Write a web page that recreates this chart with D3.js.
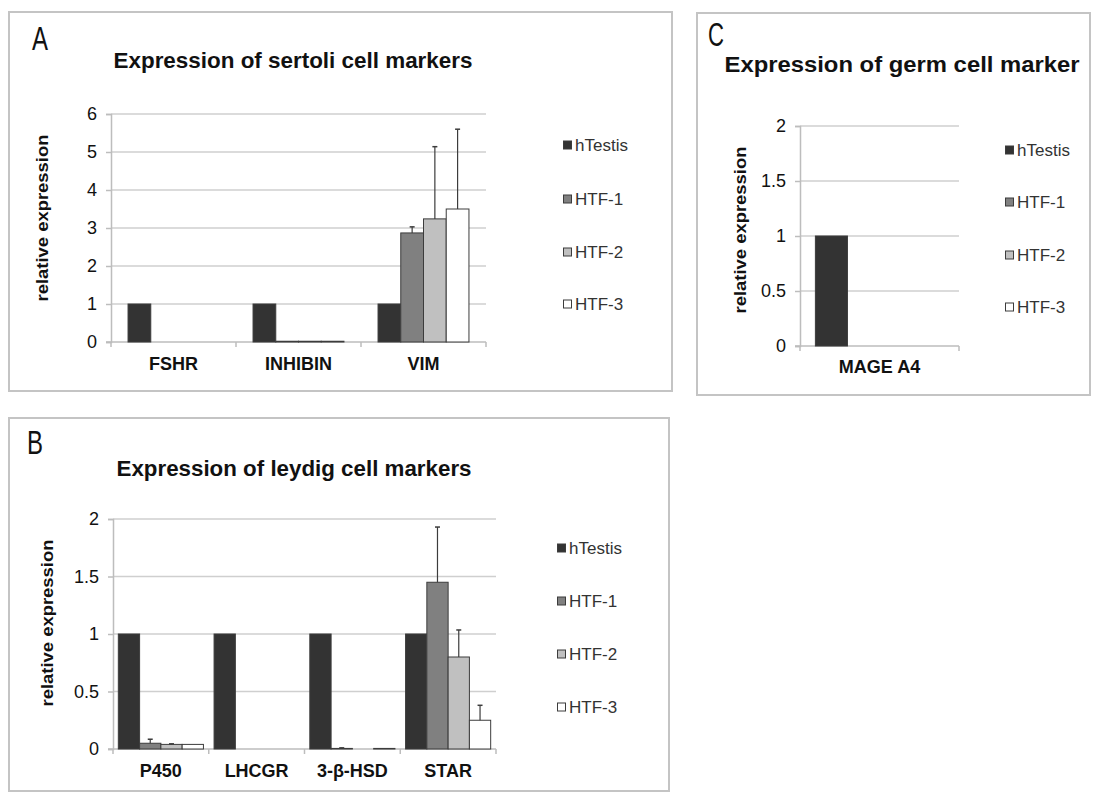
<!DOCTYPE html>
<html>
<head>
<meta charset="utf-8">
<script src="https://cdn.jsdelivr.net/npm/d3@7"></script>
<style>
  body { margin: 0; background: #fff; }
  svg text { font-family: "Liberation Sans", Arial, sans-serif; }
</style>
</head>
<body>
<div id="chart"></div>
<script>
const seriesNames = ['hTestis', 'HTF-1', 'HTF-2', 'HTF-3'];
const seriesColors = ['#333333', '#808080', '#c0c0c0', '#ffffff'];

// A - sertoli cell markers
const sertoliGenes = ['FSHR', 'INHIBIN', 'VIM'];
const sertoliValues = [[1, 0, 0, 0], [1, 0.02, 0.02, 0.02], [1, 2.87, 3.24, 3.5]];
const sertoliErrors = [[0, 0, 0, 0], [0, 0, 0, 0], [0, 0.16, 1.9, 2.1]];
const sertoliTicks = [0, 1, 2, 3, 4, 5, 6];

// B - leydig cell markers
const leydigGenes = ['P450', 'LHCGR', '3-β-HSD', 'STAR'];
const leydigValues = [[1, 0.05, 0.04, 0.04], [1, 0, 0, 0], [1, 0.005, 0, 0.005], [1, 1.45, 0.8, 0.25]];
const leydigErrors = [[0, 0.035, 0.005, 0], [0, 0, 0, 0], [0, 0.005, 0, 0], [0, 0.48, 0.235, 0.13]];
const leydigTicks = [0, 0.5, 1, 1.5, 2];

// C - germ cell marker
const germGenes = ['MAGE A4'];
const germValues = [[1, 0, 0, 0]];
const germErrors = [[0, 0, 0, 0]];
const germTicks = [0, 0.5, 1, 1.5, 2];

const svg = d3.select('#chart').append('svg')
    .attr('width', 1097)
    .attr('height', 792);

function drawPanel(cfg) {
    const g = svg.append('g');

    // panel frame
    g.append('rect')
        .attr('x', cfg.box[0]).attr('y', cfg.box[1])
        .attr('width', cfg.box[2]).attr('height', cfg.box[3])
        .attr('fill', '#fff')
        .attr('stroke', '#c4c4c4')
        .attr('stroke-width', 2);

    g.append('text')
        .attr('x', cfg.letterPos[0]).attr('y', cfg.letterPos[1])
        .attr('textLength', 16).attr('lengthAdjust', 'spacingAndGlyphs')
        .style('font-size', '33px')
        .attr('fill', '#111')
        .text(cfg.letter);

    g.append('text')
        .attr('x', cfg.titlePos[0]).attr('y', cfg.titlePos[1])
        .attr('text-anchor', 'middle')
        .attr('textLength', cfg.titleLen).attr('lengthAdjust', 'spacingAndGlyphs')
        .style('font-size', '22px').style('font-weight', 'bold')
        .attr('fill', '#111')
        .text(cfg.title);

    const x0 = d3.scaleBand()
        .domain(cfg.genes)
        .range(cfg.xRange);
    const x1 = d3.scaleBand()
        .domain(seriesNames)
        .range([0, x0.bandwidth()])
        .paddingOuter(cfg.barPad);
    const y = d3.scaleLinear()
        .domain([0, d3.max(cfg.ticks)])
        .range(cfg.yRange);

    // gridlines
    g.append('g').selectAll('line')
        .data(cfg.ticks.filter(t => t > 0))
        .join('line')
        .attr('x1', cfg.xRange[0]).attr('x2', cfg.xRange[1])
        .attr('y1', d => y(d)).attr('y2', d => y(d))
        .attr('stroke', '#cfcfcf')
        .attr('stroke-width', 1.5);

    // y axis
    const yAxis = g.append('g')
        .attr('transform', `translate(${cfg.xRange[0]},0)`)
        .call(d3.axisLeft(y).tickValues(cfg.ticks).tickSize(5).tickPadding(9)
            .tickFormat(d3.format('')));
    yAxis.select('.domain').attr('stroke', '#bdbdbd').attr('stroke-width', 1.5);
    yAxis.selectAll('.tick line').attr('stroke', '#bdbdbd').attr('stroke-width', 1.5);
    yAxis.selectAll('.tick text')
        .style('font-size', '18px').attr('fill', '#111');

    // x axis
    const xAxisY = y(0);
    g.append('line')
        .attr('x1', cfg.xRange[0] - 5).attr('x2', cfg.xRange[1])
        .attr('y1', xAxisY).attr('y2', xAxisY)
        .attr('stroke', '#bdbdbd').attr('stroke-width', 1.5);
    const bounds = cfg.genes.map(d => x0(d)).concat([cfg.xRange[1]]);
    g.append('g').selectAll('line')
        .data(bounds)
        .join('line')
        .attr('x1', d => d).attr('x2', d => d)
        .attr('y1', xAxisY).attr('y2', xAxisY + 5)
        .attr('stroke', '#bdbdbd').attr('stroke-width', 1.5);
    g.append('g').selectAll('text')
        .data(cfg.genes)
        .join('text')
        .attr('x', d => x0(d) + x0.bandwidth() / 2)
        .attr('y', cfg.catY)
        .attr('text-anchor', 'middle')
        .style('font-size', '18px').style('font-weight', 'bold')
        .attr('fill', '#111')
        .text(d => d);

    // y label
    g.append('text')
        .attr('transform', `translate(${cfg.yLabelPos[0]},${cfg.yLabelPos[1]}) rotate(-90)`)
        .attr('text-anchor', 'middle')
        .attr('dy', '0.35em')
        .attr('textLength', 167).attr('lengthAdjust', 'spacingAndGlyphs')
        .style('font-size', '16px').style('font-weight', 'bold')
        .attr('fill', '#111')
        .text('relative expression');

    // bars
    const bars = [];
    cfg.genes.forEach((gene, i) => {
        seriesNames.forEach((s, j) => {
            bars.push({ gene, s, j, v: cfg.values[i][j], e: cfg.errors[i][j] });
        });
    });
    const groups = g.append('g').selectAll('g')
        .data(bars.filter(d => d.v > 0))
        .join('g');
    groups.append('rect')
        .attr('x', d => x0(d.gene) + x1(d.s))
        .attr('y', d => y(d.v))
        .attr('width', x1.bandwidth())
        .attr('height', d => y(0) - y(d.v))
        .attr('fill', d => seriesColors[d.j])
        .attr('stroke', '#3c3c3c')
        .attr('stroke-width', 1);

    // error bars (upper only)
    const errs = groups.filter(d => d.e > 0);
    errs.append('line')
        .attr('x1', d => x0(d.gene) + x1(d.s) + x1.bandwidth() / 2)
        .attr('x2', d => x0(d.gene) + x1(d.s) + x1.bandwidth() / 2)
        .attr('y1', d => y(d.v))
        .attr('y2', d => y(d.v + d.e))
        .attr('stroke', '#3c3c3c').attr('stroke-width', 1.2);
    errs.append('line')
        .attr('x1', d => x0(d.gene) + x1(d.s) + x1.bandwidth() / 2 - 2.5)
        .attr('x2', d => x0(d.gene) + x1(d.s) + x1.bandwidth() / 2 + 2.5)
        .attr('y1', d => y(d.v + d.e))
        .attr('y2', d => y(d.v + d.e))
        .attr('stroke', '#3c3c3c').attr('stroke-width', 1.5);

    // legend
    const leg = g.append('g').selectAll('g')
        .data(seriesNames)
        .join('g')
        .attr('transform', (d, i) => `translate(${cfg.legendX},${cfg.legendY[i]})`);
    leg.append('rect')
        .attr('x', 0.5).attr('y', -4)
        .attr('width', 8).attr('height', 8)
        .attr('fill', (d, i) => seriesColors[i])
        .attr('stroke', '#3c3c3c').attr('stroke-width', 1);
    leg.append('text')
        .attr('x', 12).attr('dy', '0.36em')
        .style('font-size', '17px')
        .attr('fill', '#333')
        .text(d => d);
}

drawPanel({
    box: [9, 12, 663, 379],
    letter: 'A', letterPos: [32, 50],
    title: 'Expression of sertoli cell markers', titlePos: [293, 68], titleLen: 359,
    genes: sertoliGenes, values: sertoliValues, errors: sertoliErrors, ticks: sertoliTicks,
    xRange: [111, 486], yRange: [342, 114], barPad: 0.75,
    catY: 370, yLabelPos: [42, 218],
    legendX: 563, legendY: [145, 199, 252, 304]
});

drawPanel({
    box: [9, 418, 660, 373],
    letter: 'B', letterPos: [27, 454],
    title: 'Expression of leydig cell markers', titlePos: [294, 476], titleLen: 355,
    genes: leydigGenes, values: leydigValues, errors: leydigErrors, ticks: leydigTicks,
    xRange: [113, 496], yRange: [749, 519], barPad: 0.25,
    catY: 777, yLabelPos: [47, 623],
    legendX: 557, legendY: [548, 601, 654, 707]
});

drawPanel({
    box: [697, 13, 393, 382],
    letter: 'C', letterPos: [708, 46],
    title: 'Expression of germ cell marker', titlePos: [902, 72], titleLen: 355,
    genes: germGenes, values: germValues, errors: germErrors, ticks: germTicks,
    xRange: [800, 959], yRange: [346, 126], barPad: 0.48,
    catY: 373, yLabelPos: [740, 230],
    legendX: 1005, legendY: [150, 202, 255, 307]
});
</script>
</body>
</html>
